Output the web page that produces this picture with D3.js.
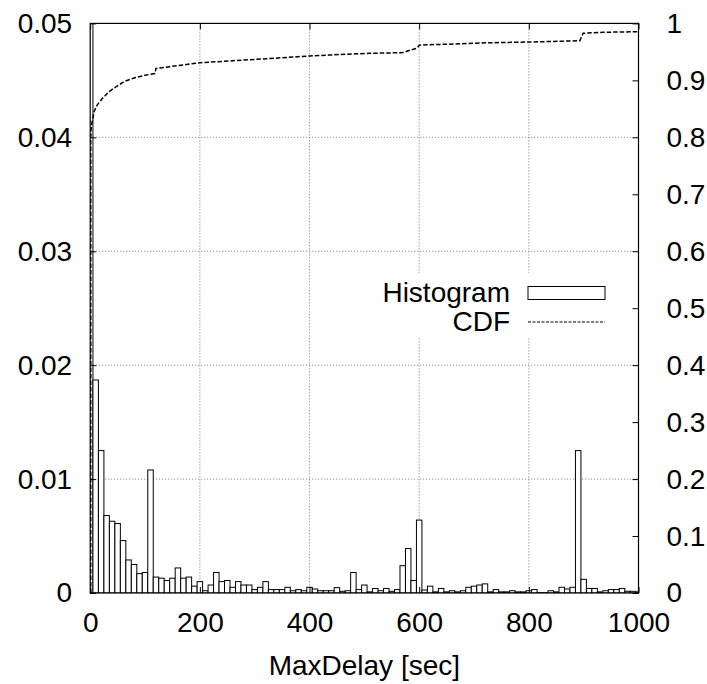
<!DOCTYPE html>
<html>
<head>
<meta charset="utf-8">
<script src="https://cdn.jsdelivr.net/npm/d3@7"></script>
<style>
  body { margin: 0; background: #fff; }
  text { font-family: "Liberation Sans", Arial, sans-serif; font-size: 28px; fill: #000; }
</style>
</head>
<body>
<svg id="chart" width="707" height="684"></svg>
<script>
// Histogram bins (centre of each 10 s box) and their fractions
const binCenters = [
  0, 10, 20, 30, 40, 50, 60, 70, 80, 90,
  100, 110, 120, 130, 140, 150, 160, 170, 180, 190,
  200, 210, 220, 230, 240, 250, 260, 270, 280, 290,
  300, 310, 320, 330, 340, 350, 360, 370, 380, 390,
  400, 410, 420, 430, 440, 450, 460, 470, 480, 490,
  500, 510, 520, 530, 540, 550, 560, 570, 580, 590,
  600, 610, 620, 630, 640, 650, 660, 670, 680, 690,
  700, 710, 720, 730, 740, 750, 760, 770, 780, 790,
  800, 810, 820, 830, 840, 850, 860, 870, 880, 890,
  900, 910, 920, 930, 940, 950, 960, 970, 980, 990,
  1000
];
const histValues = [
  0.82, 0.0187, 0.0125, 0.0068, 0.0063, 0.0061, 0.0046, 0.0029, 0.0025, 0.0017,
  0.0018, 0.0108, 0.0014, 0.0013, 0.0011, 0.0013, 0.0022, 0.0013, 0.0014, 0.0006,
  0.0010, 0.0002, 0.0007, 0.0018, 0.0010, 0.0011, 0.0005, 0.0010, 0.0007, 0.0007,
  0.0003, 0.0005, 0.0010, 0.0003, 0.0003, 0.0003, 0.0005, 0.0002, 0.0003, 0.0002,
  0.0005, 0.00035, 0.0002, 0.0002, 0.0002, 0.00047, 0.00015, 0.0002, 0.0018, 0.0003,
  0.0007, 0.0001, 0.0004, 0.0002, 0.0004, 0.00015, 0.0003, 0.0024, 0.0039, 0.0011,
  0.0064, 0.00026, 0.0006, 0.0001, 0.0004, 0.0001, 0.0002, 0.0001, 0.0002, 0.0005,
  0.0006, 0.0007, 0.0008, 0.0001, 0.0003, 0.0001, 0.0001, 0.0002, 0.0001, 0.0001,
  0.0002, 0.0003, 0.00003, 0.00003, 0.0002, 0.0001, 0.0005, 0.00035, 0.0005, 0.0125,
  0.0012, 0.0004, 0.0004, 0.0001, 0.0002, 0.0003, 0.0003, 0.0004, 0.00015, 0.00015,
  0.0001
];

// CDF
const cdfX = [1, 1, 2, 4, 7, 13, 22, 34, 49, 62, 80, 100, 118, 120, 145, 200, 261, 322,
  400, 437, 480, 510, 571, 580, 595, 601, 662, 710, 801, 893, 899, 935, 1000];
const cdfY = [0, 0.80, 0.82, 0.83, 0.845, 0.857, 0.868, 0.880, 0.890, 0.898, 0.904, 0.909,
  0.912, 0.921, 0.924, 0.931, 0.9345, 0.938, 0.9428, 0.9445, 0.9463, 0.9475, 0.9487,
  0.952, 0.956, 0.962, 0.9638, 0.9656, 0.9673, 0.9696, 0.9826, 0.9844, 0.9855];

// Tick values and labels
const xTicks = [0, 200, 400, 600, 800, 1000];
const yTicks = [0, 0.01, 0.02, 0.03, 0.04, 0.05];
const yTickLabels = ["0", "0.01", "0.02", "0.03", "0.04", "0.05"];
const y2Ticks = [0, 0.1, 0.2, 0.3, 0.4, 0.5, 0.6, 0.7, 0.8, 0.9, 1];
const y2TickLabels = ["0", "0.1", "0.2", "0.3", "0.4", "0.5", "0.6", "0.7", "0.8", "0.9", "1"];
const legendLabels = ["Histogram", "CDF"];

const binWidth = 10;
const margin = { top: 23.4, right: 68.5, bottom: 91, left: 90.2 };
const width = 707 - margin.left - margin.right;
const height = 684 - margin.top - margin.bottom;

const svg = d3.select("#chart")
  .append("g")
  .attr("transform", `translate(${margin.left}, ${margin.top})`);

const x = d3.scaleLinear().domain([0, 1000]).range([0, width]);
const y = d3.scaleLinear().domain([0, 0.05]).range([height, 0]);
const y2 = d3.scaleLinear().domain([0, 1]).range([height, 0]);

// clip everything to the plot area
svg.append("clipPath").attr("id", "plot-clip")
  .append("rect").attr("width", width).attr("height", height);

// dotted grid
svg.append("g").selectAll("line")
  .data(xTicks.slice(1, -1))
  .join("line")
  .attr("x1", (d) => x(d)).attr("x2", (d) => x(d))
  .attr("y1", 0).attr("y2", height)
  .style("stroke", "#777").style("stroke-dasharray", "1,2");
svg.append("g").selectAll("line")
  .data(yTicks.slice(1, -1))
  .join("line")
  .attr("x1", 0).attr("x2", width)
  .attr("y1", (d) => y(d)).attr("y2", (d) => y(d))
  .style("stroke", "#777").style("stroke-dasharray", "1,2");

// histogram boxes
const plot = svg.append("g").attr("clip-path", "url(#plot-clip)");
plot.selectAll(".bar")
  .data(binCenters.map((c, i) => ({ c, v: histValues[i] })))
  .join("rect")
  .attr("class", "bar")
  .attr("x", (d) => x(d.c - binWidth / 2))
  .attr("width", x(binWidth) - x(0))
  .attr("y", (d) => y(d.v))
  .attr("height", (d) => y(0) - y(d.v))
  .style("fill", "#fff")
  .style("stroke", "#000")
  .style("stroke-width", 1);

// CDF curve
const line = d3.line().x((d) => x(d[0])).y((d) => y2(d[1]));
plot.append("path")
  .datum(cdfX.map((d, i) => [d, cdfY[i]]))
  .attr("d", line)
  .style("fill", "none")
  .style("stroke", "#000")
  .style("stroke-width", 1.5)
  .style("stroke-dasharray", "4.5,2");

// legend
const legend = svg.append("g").attr("transform", `translate(${420 - margin.left}, ${293 - margin.top})`);
legend.append("rect")
  .attr("x", -48).attr("y", -20).attr("width", 243).attr("height", 64)
  .style("fill", "#fff");
legend.selectAll("text")
  .data(legendLabels)
  .join("text")
  .attr("x", 90)
  .attr("y", (d, i) => i * 29)
  .attr("dy", "0.33em")
  .attr("text-anchor", "end")
  .text((d) => d);
legend.append("rect")
  .attr("x", 108).attr("y", -6.5).attr("width", 77).attr("height", 13)
  .style("fill", "#fff").style("stroke", "#000");
legend.append("line")
  .attr("x1", 108).attr("x2", 185).attr("y1", 29).attr("y2", 29)
  .style("stroke", "#000").style("stroke-width", 1.2).style("stroke-dasharray", "3,1.5");

// axes with inward ticks
const styleAxis = (g) => {
  g.select(".domain").remove();
  g.selectAll("line").style("stroke", "#000");
  g.selectAll("text").style("font-size", "28px").style("font-family", null);
};
svg.append("g")
  .attr("transform", `translate(0, ${height})`)
  .call(d3.axisBottom(x).tickValues(xTicks).tickSize(-6).tickPadding(19).tickFormat((d) => d))
  .call(styleAxis);
svg.append("g")
  .call(d3.axisTop(x).tickValues(xTicks).tickSize(-6).tickFormat(""))
  .call(styleAxis);
svg.append("g")
  .call(d3.axisLeft(y).tickValues(yTicks).tickSize(-6).tickPadding(18).tickFormat((d, i) => yTickLabels[i]))
  .call(styleAxis);
svg.append("g")
  .attr("transform", `translate(${width}, 0)`)
  .call(d3.axisRight(y2).tickValues(y2Ticks).tickSize(-6).tickPadding(28).tickFormat((d, i) => y2TickLabels[i]))
  .call(styleAxis);

// border
svg.append("rect")
  .attr("width", width).attr("height", height)
  .style("fill", "none").style("stroke", "#000").style("stroke-width", 1.2);

// x axis title
svg.append("text")
  .attr("x", width / 2)
  .attr("y", 675 - margin.top)
  .attr("text-anchor", "middle")
  .text("MaxDelay [sec]");
</script>
</body>
</html>
